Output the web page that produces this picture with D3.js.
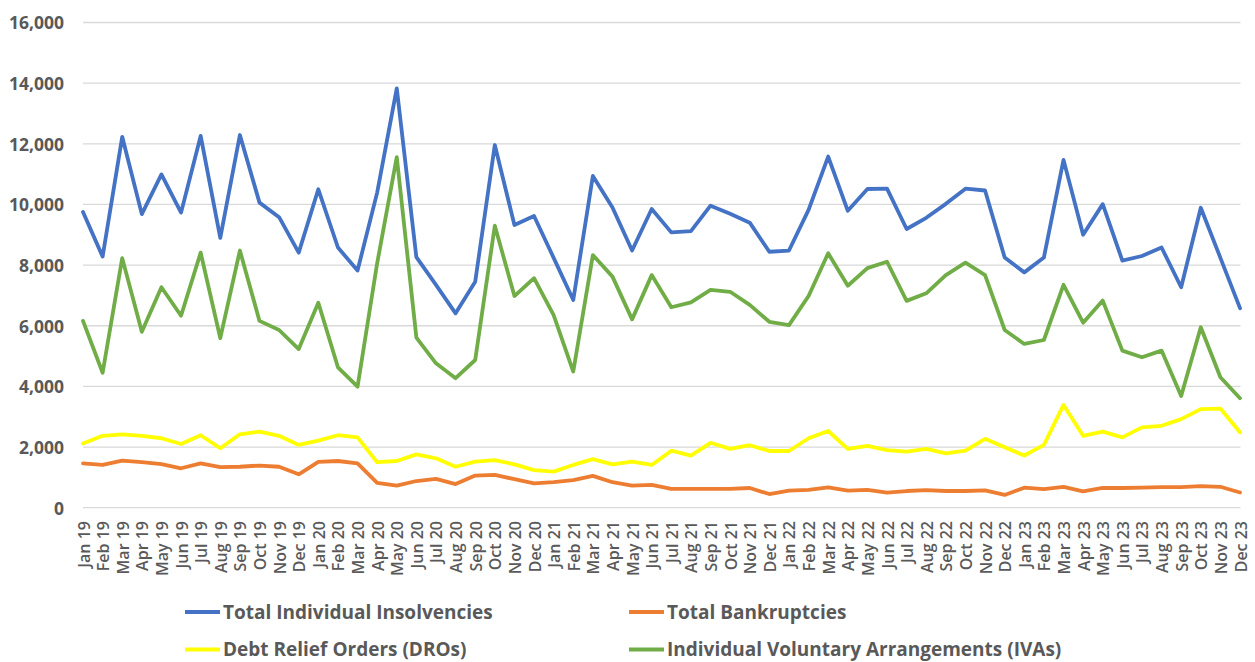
<!DOCTYPE html>
<html>
<head>
<meta charset="utf-8">
<script src="https://cdn.jsdelivr.net/npm/d3@7"></script>
<style>
  html, body { margin: 0; padding: 0; background: #ffffff; }
  svg { display: block; }
</style>
</head>
<body>
<svg id="chart" width="1255" height="662"></svg>
<script>
// Monthly insolvency statistics, England & Wales, Jan 2019 – Dec 2023
const months = [
  "Jan 19","Feb 19","Mar 19","Apr 19","May 19","Jun 19","Jul 19","Aug 19","Sep 19","Oct 19","Nov 19","Dec 19",
  "Jan 20","Feb 20","Mar 20","Apr 20","May 20","Jun 20","Jul 20","Aug 20","Sep 20","Oct 20","Nov 20","Dec 20",
  "Jan 21","Feb 21","Mar 21","Apr 21","May 21","Jun 21","Jul 21","Aug 21","Sep 21","Oct 21","Nov 21","Dec 21",
  "Jan 22","Feb 22","Mar 22","Apr 22","May 22","Jun 22","Jul 22","Aug 22","Sep 22","Oct 22","Nov 22","Dec 22",
  "Jan 23","Feb 23","Mar 23","Apr 23","May 23","Jun 23","Jul 23","Aug 23","Sep 23","Oct 23","Nov 23","Dec 23"
];

const totalInsolvencies = [
  9750, 8280, 12230, 9680, 10990, 9730, 12260, 8900, 12290, 10060, 9580, 8410,
  10500, 8580, 7820, 10390, 13830, 8260, 7345, 6410, 7450, 11960, 9320, 9620,
  8240, 6850, 10940, 9900, 8480, 9850, 9080, 9120, 9960, 9690, 9400, 8440,
  8480, 9820, 11580, 9790, 10510, 10520, 9190, 9560, 10020, 10520, 10460, 8250,
  7760, 8250, 11470, 9000, 10010, 8150, 8300, 8580, 7270, 9890, 8240, 6580
];

const totalBankruptcies = [
  1460, 1410, 1550, 1500, 1440, 1300, 1460, 1340, 1350, 1390, 1350, 1100,
  1510, 1540, 1460, 820, 730, 880, 950, 780, 1060, 1080, 940, 800,
  840, 910, 1050, 840, 730, 750, 620, 620, 620, 620, 650, 450,
  560, 590, 670, 560, 590, 500, 550, 580, 550, 550, 570, 420,
  660, 610, 690, 540, 650, 650, 660, 680, 680, 710, 690, 500
];

const dros = [
  2120, 2370, 2420, 2370, 2290, 2100, 2390, 1960, 2420, 2510, 2370, 2070,
  2210, 2390, 2320, 1500, 1540, 1760, 1630, 1350, 1520, 1570, 1430, 1240,
  1190, 1410, 1600, 1430, 1520, 1410, 1880, 1720, 2140, 1940, 2060, 1870,
  1870, 2290, 2530, 1940, 2040, 1900, 1850, 1940, 1790, 1880, 2270, 1990,
  1720, 2070, 3390, 2370, 2510, 2320, 2650, 2700, 2920, 3250, 3270, 2490
];

const ivas = [
  6160, 4450, 8230, 5800, 7270, 6330, 8410, 5590, 8480, 6160, 5860, 5230,
  6760, 4630, 3990, 8060, 11560, 5610, 4760, 4270, 4870, 9300, 6980, 7570,
  6350, 4490, 8330, 7620, 6210, 7670, 6610, 6770, 7180, 7120, 6690, 6130,
  6020, 6980, 8390, 7320, 7900, 8110, 6820, 7070, 7670, 8080, 7670, 5860,
  5400, 5530, 7350, 6100, 6830, 5180, 4960, 5180, 3680, 5950, 4300, 3610
];

const yTicks = [0, 2000, 4000, 6000, 8000, 10000, 12000, 14000, 16000];

const seriesNames = [
  "Total Individual Insolvencies",
  "Total Bankruptcies",
  "Debt Relief Orders (DROs)",
  "Individual Voluntary Arrangements (IVAs)"
];
const seriesColors = ["#4472C4", "#ED7D31", "#FFFF00", "#70AD47"];

// Drawing order: later series sit on top
const series = [
  { name: seriesNames[0], color: seriesColors[0], values: totalInsolvencies },
  { name: seriesNames[1], color: seriesColors[1], values: totalBankruptcies },
  { name: seriesNames[2], color: seriesColors[2], values: dros },
  { name: seriesNames[3], color: seriesColors[3], values: ivas }
];

const svg = d3.select("#chart");
const textColor = "#595959";

const x = d3.scalePoint().domain(months).range([83, 1240]);
const y = d3.scaleLinear().domain([0, 16000]).range([507.7, 22.5]);

// Horizontal gridlines
svg.append("g")
  .selectAll("line")
  .data(yTicks)
  .join("line")
  .attr("x1", 83)
  .attr("x2", 1240.5)
  .attr("y1", d => y(d))
  .attr("y2", d => y(d))
  .attr("stroke", "#d9d9d9")
  .attr("stroke-width", 1.3);

// Y axis labels
const yAxis = d3.axisLeft(y)
  .tickValues(yTicks)
  .tickFormat(d3.format(","))
  .tickSize(0)
  .tickPadding(0);
const gy = svg.append("g")
  .attr("transform", "translate(64,0)")
  .call(yAxis);
gy.select(".domain").remove();
gy.selectAll("text")
  .attr("font-family", "'Open Sans', sans-serif")
  .attr("font-weight", 700)
  .attr("font-size", "17.5px")
  .attr("fill", textColor)
  .attr("dy", "0.36em");

// X axis labels, rotated
const xAxis = d3.axisBottom(x).tickSize(0).tickPadding(0);
const gx = svg.append("g")
  .attr("transform", "translate(0,513)")
  .call(xAxis);
gx.select(".domain").remove();
gx.selectAll("text")
  .attr("font-family", "'Open Sans', sans-serif")
  .attr("font-weight", 600)
  .attr("font-size", "16px")
  .attr("fill", textColor)
  .attr("text-anchor", "end")
  .attr("dy", null)
  .attr("y", 0)
  .attr("transform", "translate(0,8) rotate(-90) translate(0,6)");

// Series lines
const line = d3.line()
  .x((d, i) => x(months[i]))
  .y(d => y(d));

svg.append("g")
  .selectAll("path")
  .data(series)
  .join("path")
  .attr("d", d => line(d.values))
  .attr("fill", "none")
  .attr("stroke", d => d.color)
  .attr("stroke-width", 3.8)
  .attr("stroke-linejoin", "round")
  .attr("stroke-linecap", "round");

// Legend: two rows, two columns
const legendPos = [
  { x: 185, y: 612 },
  { x: 629, y: 612 },
  { x: 185, y: 649.5 },
  { x: 629, y: 649.5 }
];
const legend = svg.append("g")
  .selectAll("g")
  .data(series)
  .join("g")
  .attr("transform", (d, i) => `translate(${legendPos[i].x},${legendPos[i].y})`);
legend.append("line")
  .attr("x1", 0).attr("x2", 35)
  .attr("y1", 0).attr("y2", 0)
  .attr("stroke", d => d.color)
  .attr("stroke-width", 3.8);
legend.append("text")
  .attr("x", 38)
  .attr("y", 0)
  .attr("dy", "0.35em")
  .attr("font-family", "'Open Sans', sans-serif")
  .attr("font-weight", 700)
  .attr("font-size", "19px")
  .attr("fill", textColor)
  .text(d => d.name);
</script>
</body>
</html>
